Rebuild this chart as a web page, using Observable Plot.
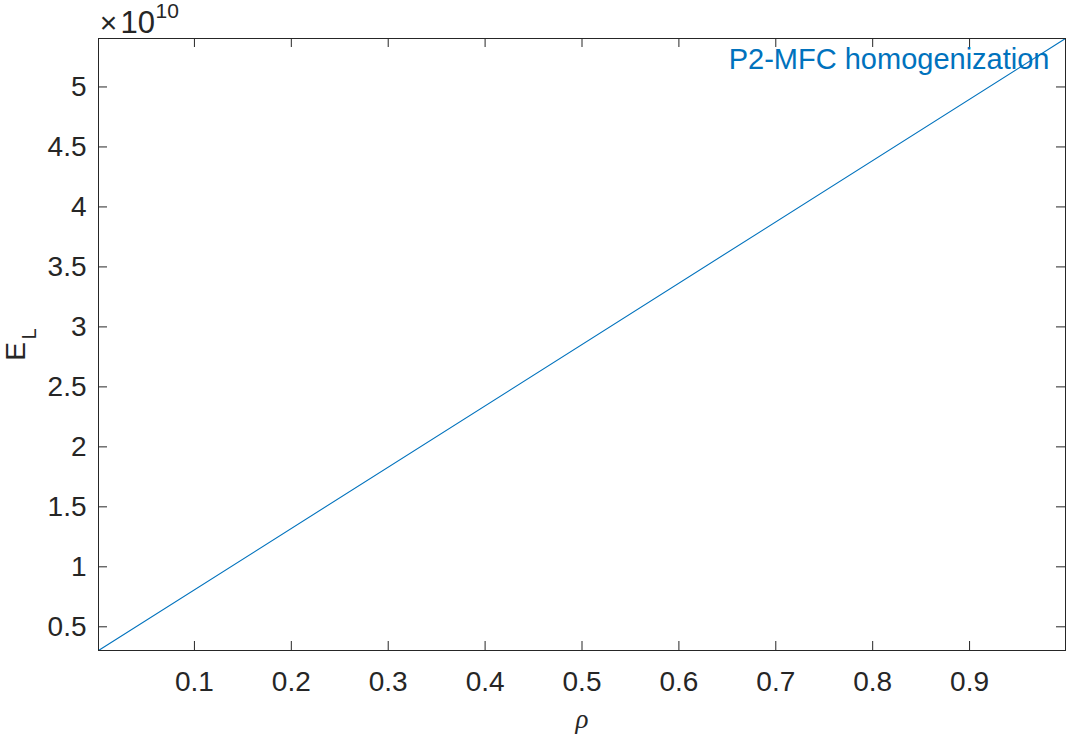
<!DOCTYPE html>
<html>
<head>
<meta charset="utf-8">
<script src="https://cdn.jsdelivr.net/npm/d3@7"></script>
<script src="https://cdn.jsdelivr.net/npm/@observablehq/plot@0.6"></script>
<style>
  html, body { margin: 0; padding: 0; background: #ffffff; }
  #chart svg { display: block; }
</style>
</head>
<body>
<div id="chart"></div>
<script>
// ---- data ----
const rho = [0.001, 0.999];
const EL = [3.025e9, 5.404e10];
const xTicks = [0.1, 0.2, 0.3, 0.4, 0.5, 0.6, 0.7, 0.8, 0.9];
const yTicks = [0.5e10, 1e10, 1.5e10, 2e10, 2.5e10, 3e10, 3.5e10, 4e10, 4.5e10, 5e10];
const yTickLabels = ["0.5", "1", "1.5", "2", "2.5", "3", "3.5", "4", "4.5", "5"];
const seriesName = ["P2-MFC homogenization"];
const xLabel = ["ρ"];
const yLabelMain = ["E"];
const yLabelSub = ["L"];
const expTimes = ["×"];
const expBase = ["10"];
const expPower = ["10"];

const data = rho.map((r, i) => ({ rho: r, EL: EL[i] }));

const W = 1067, H = 734;
const mL = 98, mR = 2, mT = 38, mB = 84;
const innerW = W - mL - mR, innerH = H - mT - mB;
const ink = "#262626";
const blue = "#0072BD";
const tickLen = 9;
const sans = "'Liberation Sans', Arial, Helvetica, sans-serif";

const chart = Plot.plot({
  width: W,
  height: H,
  marginLeft: mL,
  marginRight: mR,
  marginTop: mT,
  marginBottom: mB,
  style: { fontFamily: sans, fontSize: "28px", color: ink, background: "#ffffff" },
  x: { domain: [rho[0], rho[1]] },
  y: { domain: [EL[0], EL[1]] },
  marks: [
    Plot.axisX(xTicks, { tickSize: 0, tickPadding: 21, label: null, fontSize: 28, fill: ink, tickFormat: d => String(d) }),
    Plot.axisY(yTicks, { tickSize: 0, tickPadding: 12, label: null, fontSize: 28, fill: ink,
      tickFormat: d => yTickLabels[yTicks.indexOf(d)] }),
    // inward ticks on all four sides
    Plot.ruleX(xTicks, { x: d => d, stroke: ink, insetTop: innerH - tickLen }),
    Plot.ruleX(xTicks, { x: d => d, stroke: ink, insetBottom: innerH - tickLen }),
    Plot.ruleY(yTicks, { y: d => d, stroke: ink, insetRight: innerW - tickLen }),
    Plot.ruleY(yTicks, { y: d => d, stroke: ink, insetLeft: innerW - tickLen }),
    Plot.line(data, { x: "rho", y: "EL", stroke: blue, strokeWidth: 1.1 }),
    Plot.frame({ stroke: ink, strokeWidth: 1 }),
    // series annotation
    Plot.text(seriesName, { text: d => d, frameAnchor: "top-right", textAnchor: "end", lineAnchor: "bottom",
      dx: -16, dy: 30, fill: blue, fontSize: 29, fontFamily: sans }),
    // exponent label ×10^10
    Plot.text(expTimes, { text: d => d, frameAnchor: "top-left", textAnchor: "middle", lineAnchor: "bottom",
      dx: 10, dy: -6, fill: ink, fontSize: 30, fontFamily: sans }),
    Plot.text(expBase, { text: d => d, frameAnchor: "top-left", textAnchor: "start", lineAnchor: "bottom",
      dx: 22, dy: -6, fill: ink, fontSize: 31, fontFamily: sans }),
    Plot.text(expPower, { text: d => d, frameAnchor: "top-left", textAnchor: "start", lineAnchor: "bottom",
      dx: 57, dy: -21, fill: ink, fontSize: 21, fontFamily: sans }),
    // axis labels
    Plot.text(xLabel, { text: d => d, frameAnchor: "bottom", textAnchor: "middle", lineAnchor: "bottom",
      dy: 77, fill: ink, fontSize: 27, fontStyle: "italic", fontFamily: "'Liberation Serif', 'DejaVu Serif', serif" }),
    Plot.text(yLabelMain, { text: d => d, frameAnchor: "left", rotate: -90, textAnchor: "middle", lineAnchor: "bottom",
      dx: -74, dy: 7, fill: ink, fontSize: 28, fontFamily: sans }),
    Plot.text(yLabelSub, { text: d => d, frameAnchor: "left", rotate: -90, textAnchor: "start", lineAnchor: "bottom",
      dx: -63, dy: -5, fill: ink, fontSize: 20, fontFamily: sans })
  ]
});

document.getElementById("chart").appendChild(chart);
</script>
</body>
</html>
